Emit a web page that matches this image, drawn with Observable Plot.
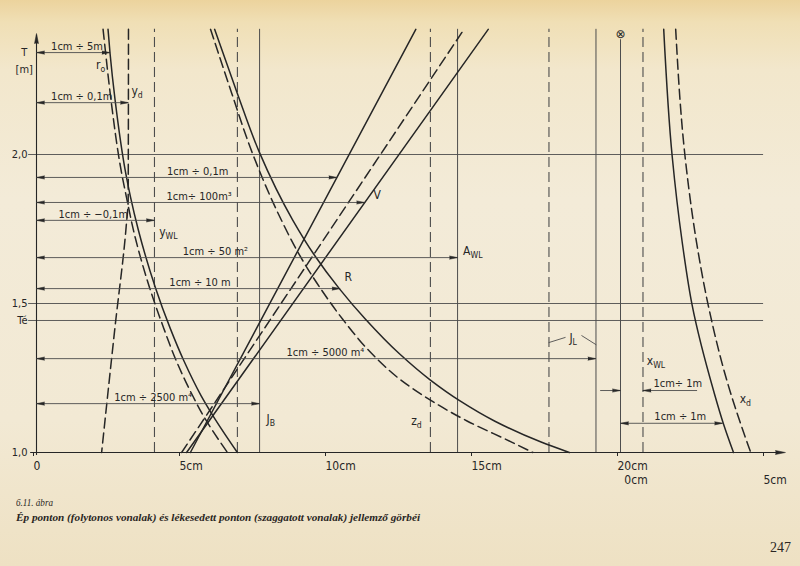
<!DOCTYPE html>
<html lang="hu">
<head>
<meta charset="utf-8">
<script src="https://cdn.jsdelivr.net/npm/d3@7"></script>
<script src="https://cdn.jsdelivr.net/npm/@observablehq/plot@0.6"></script>
<style>
  html, body { margin:0; padding:0; }
  body { width:800px; height:566px; overflow:hidden; position:relative;
    background: linear-gradient(180deg, #ecd39d 0px, #f0dfb5 22px, #f2e7cc 70px, #f3ebd8 200px, #f2e9d4 420px, #eee1c3 566px); }
  #chart { position:absolute; left:0; top:0; }
  .cap { position:absolute; font-family:"Liberation Serif","DejaVu Serif",serif; font-style:italic; color:#2a2623; white-space:nowrap; transform-origin:0 50%; }
  #fig { left:16px; top:497px; font-size:10.5px; }
  #title { left:16px; top:511px; font-size:11px; font-weight:bold; }
  #page { left:770px; top:540px; font-size:14px; font-style:normal; }
</style>
</head>
<body>
<div id="chart"></div>
<div class="cap" id="fig">6.11. ábra</div>
<div class="cap" id="title">Ép ponton (folytonos vonalak) és lékesedett ponton (szaggatott vonalak) jellemző görbéi</div>
<div class="cap" id="page">247</div>
<script>
// ---------------- data (x in cm of drawing, T = draft in m) ----------------
const topT = 2.42;            // upper end of the drawn curves
const secondOrigin = 20;      // "0 cm" of the right-hand scale (x_WL, x_d)
const yTicks = [1.0, 1.5, 2.0];
const designDraft = 1.443;    // Té
const gridDrafts = [2.0, 1.5, designDraft];
const xTicks = [0, 5, 10, 15, 20];
const xTickLabels = ["0", "5cm", "10cm", "15cm", "20cm"];
const xTicks2 = [20, 25];
const xTickLabels2 = ["\u20070cm", "5cm"];

// r0 (1 cm ÷ 5 m)
const rT        = [2.42, 2.338, 2.184, 1.935, 1.857, 1.746, 1.554, 1.419, 1.307, 1.192, 1.124, 1.0];
const r0Intact  = [2.45, 2.52, 2.69, 3.06, 3.22, 3.49, 4.07, 4.57, 5.05, 5.63, 6.04, 6.88];
const r0Damaged = [2.28, 2.37, 2.55, 2.92, 3.08, 3.32, 3.87, 4.35, 4.79, 5.34, 5.71, 6.54];

// y_d, damaged (1 cm ÷ 0,1 m)
const ydT       = [2.42, 1.85, 1.757, 1.422, 1.0];
const ydDamaged = [3.15, 3.14, 3.07, 2.69, 2.23];

// R (1 cm ÷ 10 m)
const RT        = [2.42, 2.210, 2.008, 1.781, 1.662, 1.550, 1.448, 1.332, 1.243, 1.174, 1.105, 1.035, 1.0];
const RIntact   = [6.10, 6.86, 7.63, 8.77, 9.52, 10.37, 11.26, 12.42, 13.49, 14.49, 15.70, 17.28, 18.25];
const RDamaged  = [5.96, 6.67, 7.38, 8.38, 9.01, 9.73, 10.48, 11.48, 12.48, 13.52, 14.76, 16.27, 17.00];

// straight curves (1 cm ÷ 0,1 m and V, 1 cm ÷ 100 m3)
const lineT     = [1.0, 2.42];
const zIntact   = [5.27, 12.99];
const VIntact   = [5.14, 15.47];
const VDamaged  = [4.97, 14.64];

// x_d on the right-hand scale (1 cm ÷ 1 m)
const xdT       = [2.42, 1.994, 1.708, 1.496, 1.203, 1.095, 1.0];
const xdIntact  = [1.48, 1.77, 2.11, 2.45, 3.20, 3.53, 3.87];
const xdDamaged = [1.89, 2.21, 2.60, 3.00, 3.76, 4.12, 4.46];

// constant values (vertical lines): J_B, A_WL, J_L  /  y_WL, J_B, z_d, J_L, x_WL
const solidVerticals  = [7.64, 14.42, 19.16];
const dashedVerticals = [4.04, 6.88, 13.49, 17.55, 20.77];

// scale arrows from the T axis
const scaleDraft  = [2.342, 2.174, 1.923, 1.839, 1.779, 1.654, 1.550, 1.315, 1.164];
const scaleTarget = [2.52, 3.15, 10.29, 11.24, 4.04, 14.42, 10.40, 19.16, 7.64];
const scaleLabel  = ["1cm ÷ 5m", "1cm ÷ 0,1m", "1cm ÷ 0,1m", "1cm÷ 100m³", "1cm ÷ −0,1m",
                     "1cm ÷ 50 m²", "1cm ÷ 10 m", "1cm ÷ 5000 m⁴", "1cm ÷ 2500 m⁴"];
const scaleLabelX = [0.5, 0.5, 4.47, 4.45, 0.75, 5.01, 4.55, 8.56, 2.66];

// right-hand dimension arrows (second scale)
const dimT      = [1.208, 1.098];
const dimLabel  = ["1cm÷ 1m", "1cm ÷ 1m"];
const dimLabelX = [1.13, 1.16];
const dimExt    = [-0.68, 2.64];
const xdAtDim   = 3.50;

// curve names
const curveLabels = [
  {text: "r_o",  x: 2.04,  T: 2.299},
  {text: "y_d",  x: 3.25,  T: 2.211},
  {text: "y_WL", x: 4.20,  T: 1.738},
  {text: "V",    x: 11.54, T: 1.863},
  {text: "A_WL", x: 14.61, T: 1.677},
  {text: "R",    x: 10.55, T: 1.590},
  {text: "J_B",  x: 7.88,  T: 1.111},
  {text: "z_d",  x: 12.83, T: 1.106},
  {text: "J_L",  x: 18.25, T: 1.383},
  {text: "x_WL", x: 20.90, T: 1.307},
  {text: "x_d",  x: 24.08, T: 1.178}
];
const braceT = 1.378;

// ---------------- drawing ----------------
const ink = "#262626";
const thinInk = "#4d4d4d";
const F = '"DejaVu Sans Condensed","Liberation Sans Narrow","Roboto Condensed","DejaVu Sans",sans-serif';

const pts = (T, X, off = 0) => T.map((t, i) => ({T: t, x: X[i] + off}));
const scales = scaleDraft.map((t, i) => ({T: t, end: scaleTarget[i], label: scaleLabel[i], lx: scaleLabelX[i]}));
const head = (data, rotate, o = {}) => Plot.vector(data, {anchor: "end", shape: "spike", length: 8, r: 1.6,
  rotate, fill: ink, stroke: ink, strokeWidth: 0.5, ...o});
const curve = {x: "x", y: "T", stroke: ink, strokeWidth: 1.5, curve: "monotone-y"};
const dashed = {strokeDasharray: "10,5"};

const jlD = dashedVerticals[3], jlI = solidVerticals[2], jlMid = (jlD + jlI) / 2;
const brace = [
  {x: jlD, T: braceT - 0.009, k: 0}, {x: jlMid - 0.25, T: braceT + 0.008, k: 0},
  {x: jlMid + 0.32, T: braceT + 0.014, k: 1}, {x: jlI, T: braceT - 0.016, k: 1}
];
const xWLDamaged = dashedVerticals[4];

const plot = Plot.plot({
  width: 800, height: 485,
  marginLeft: 36, marginBottom: 33, marginTop: 0, marginRight: 0,
  x: {domain: [0, 20], range: [36, 620]},
  y: {domain: [1, 2], range: [452, 154]},
  style: {fontFamily: F, fontSize: "11px", color: ink, background: "transparent", overflow: "visible"},
  marks: [
    // horizontal grid lines
    Plot.ruleY(gridDrafts, {y: d => d, x1: () => -0.27, x2: () => 24.9, stroke: thinInk, strokeWidth: 0.9}),
    // vertical constant lines
    Plot.ruleX(solidVerticals, {x: d => d, y1: () => 1, y2: () => topT, stroke: thinInk, strokeWidth: 1}),
    Plot.ruleX(dashedVerticals, {x: d => d, y1: () => 1, y2: () => topT, stroke: thinInk, strokeWidth: 1.1, strokeDasharray: "10,5"}),
    Plot.ruleX([secondOrigin], {x: d => d, y1: () => 1, y2: () => 2.385, stroke: thinInk, strokeWidth: 1}),
    Plot.text([secondOrigin], {x: d => d, y: () => 2.405, text: () => "⊗", fontSize: 12, fill: ink, fontFamily: "DejaVu Sans"}),
    // axes
    Plot.ruleY([1], {y: d => d, x1: () => -0.2, x2: () => 25.6, stroke: ink, strokeWidth: 1.1}),
    Plot.ruleX([0], {x: d => d, y1: () => 0.99, y2: () => 2.40, stroke: ink, strokeWidth: 1.1}),
    head([{x: 25.65, T: 1}], 90, {x: "x", y: "T", length: 10, r: 2}),
    head([{x: 0, T: 2.406}], 0, {x: "x", y: "T", length: 10, r: 2}),
    Plot.axisY({ticks: [...yTicks, designDraft], tickSize: 0, tickPadding: 9, label: null, fontSize: 11,
      tickFormat: d => d === designDraft ? "Té" : d.toFixed(1).replace(".", ",")}),
    Plot.axisX({ticks: xTicks, tickSize: 4, tickPadding: 5, label: null, textAnchor: "start", dx: -3, fontSize: 12,
      tickFormat: d => xTickLabels[xTicks.indexOf(d)]}),
    Plot.axisX({ticks: xTicks2, tickSize: 4, tickPadding: 19, label: null, textAnchor: "start", dx: -3, fontSize: 12,
      tickFormat: d => xTickLabels2[xTicks2.indexOf(d)]}),
    Plot.text(["T", "[m]"], {x: () => -0.42, y: (d, i) => i ? 2.285 : 2.342, text: d => d, fontSize: 11}),
    // curves
    Plot.line(pts(rT, r0Intact), curve),
    Plot.line(pts(rT, r0Damaged), {...curve, ...dashed}),
    Plot.line(pts(ydT, ydDamaged), {...curve, ...dashed}),
    Plot.line(pts(RT, RIntact), curve),
    Plot.line(pts(RT, RDamaged), {...curve, ...dashed}),
    Plot.line(pts(lineT, zIntact), {...curve, curve: "linear"}),
    Plot.line(pts(lineT, VIntact), {...curve, curve: "linear"}),
    Plot.line(pts(lineT, VDamaged), {...curve, curve: "linear", ...dashed}),
    Plot.line(pts(xdT, xdIntact, secondOrigin), curve),
    Plot.line(pts(xdT, xdDamaged, secondOrigin), {...curve, ...dashed}),
    // scale arrows from the axis
    Plot.ruleY(scales, {y: "T", x1: () => 0, x2: "end", stroke: thinInk, strokeWidth: 0.9}),
    head(scales, -90, {x: () => 0, y: "T"}),
    head(scales, 90, {x: "end", y: "T"}),
    Plot.text(scales, {x: "lx", y: d => d.T + 0.021, text: "label", textAnchor: "start", fill: ink}),
    // right-hand dimensions
    Plot.ruleY([dimT[0]], {y: d => d, x1: () => secondOrigin + dimExt[0], x2: () => secondOrigin, stroke: thinInk, strokeWidth: 0.9}),
    Plot.ruleY([dimT[0]], {y: d => d, x1: () => xWLDamaged, x2: () => secondOrigin + dimExt[1], stroke: thinInk, strokeWidth: 0.9}),
    head([dimT[0]], 90, {x: () => secondOrigin, y: d => d}),
    head([dimT[0]], -90, {x: () => xWLDamaged, y: d => d}),
    Plot.ruleY([dimT[1]], {y: d => d, x1: () => secondOrigin, x2: () => secondOrigin + xdAtDim, stroke: thinInk, strokeWidth: 0.9}),
    head([dimT[1]], -90, {x: () => secondOrigin, y: d => d}),
    head([dimT[1]], 90, {x: () => secondOrigin + xdAtDim, y: d => d}),
    Plot.text(dimT, {x: (d, i) => secondOrigin + dimLabelX[i], y: d => d + 0.023, text: (d, i) => dimLabel[i], textAnchor: "start", fill: ink}),
    // J_L brace
    Plot.line(brace, {x: "x", y: "T", z: "k", stroke: thinInk, strokeWidth: 0.9}),
    // curve names
    Plot.text(curveLabels, {x: "x", y: "T", text: "text", textAnchor: "start", fontSize: 12, fill: ink})
  ]
});

// subscripts: "A_WL" -> A with WL lowered
const NS = "http://www.w3.org/2000/svg";
plot.querySelectorAll("text").forEach(t => {
  if (t.children.length === 0 && t.textContent.includes("_")) {
    const [b, s] = t.textContent.split("_");
    t.textContent = "";
    const a = document.createElementNS(NS, "tspan"); a.textContent = b;
    const c = document.createElementNS(NS, "tspan"); c.textContent = s;
    c.setAttribute("dy", "0.35em"); c.setAttribute("font-size", "0.72em");
    t.append(a, c);
  }
});
document.getElementById("chart").append(plot);

// fit caption widths to the printed page
const fit = (id, w) => { const e = document.getElementById(id); const r = e.getBoundingClientRect().width; e.style.transform = `scaleX(${w / r})`; };
fit("title", 404);
fit("fig", 37);
</script>
</body>
</html>
